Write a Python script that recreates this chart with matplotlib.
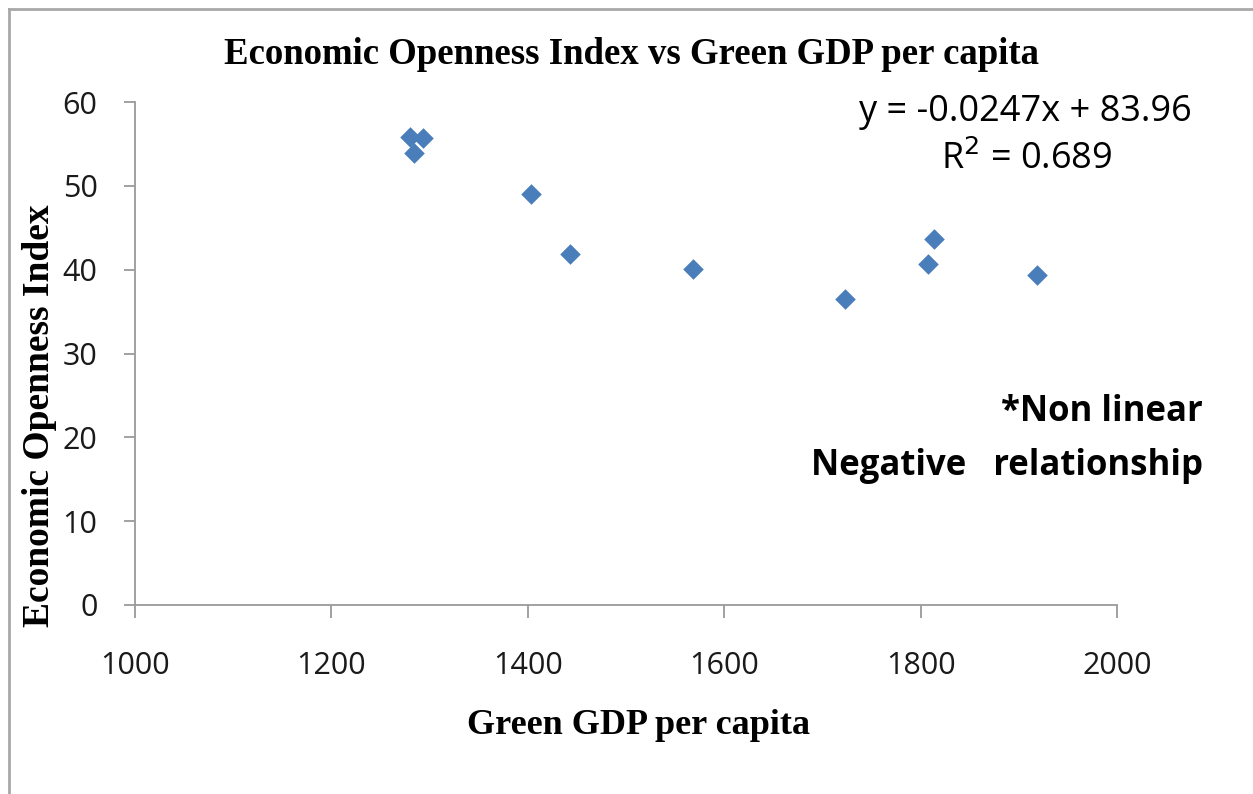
import matplotlib.pyplot as plt
from matplotlib.lines import Line2D

# data
green_gdp = [1280, 1293, 1284, 1403, 1443, 1568, 1723, 1808, 1814, 1919]
openness = [55.8, 55.7, 53.9, 49.0, 41.9, 40.1, 36.5, 40.7, 43.7, 39.4]

x_ticks = [1000, 1200, 1400, 1600, 1800, 2000]
y_ticks = [0, 10, 20, 30, 40, 50, 60]

axis_gray = '#9a9a9a'
tick_font = 'Open Sans'
serif_font = 'Liberation Serif'

fig = plt.figure(figsize=(12.53, 7.94), dpi=100)
ax = fig.add_axes([135 / 1253, 1 - 605 / 794, 982 / 1253, 503 / 794])

ax.scatter(green_gdp, openness, marker='D', s=110, color='#4a7ebb', zorder=3, linewidths=0)

ax.set_xlim(1000, 2000)
ax.set_ylim(0, 60)
ax.set_xticks(x_ticks)
ax.set_yticks(y_ticks)

for side in ['top', 'right']:
    ax.spines[side].set_visible(False)
for side in ['left', 'bottom']:
    ax.spines[side].set_color(axis_gray)
    ax.spines[side].set_linewidth(1.3)

ax.tick_params(axis='both', direction='out', color=axis_gray, width=1.3, labelcolor='#1a1a1a')
ax.tick_params(axis='y', length=8, pad=19)
ax.tick_params(axis='x', length=9, pad=24)
for lab in ax.get_xticklabels() + ax.get_yticklabels():
    lab.set_fontfamily(tick_font)
    lab.set_fontsize(22)

# axis titles placed where the reference has them
fig.text(639 / 1253, 1 - 725 / 794, 'Green GDP per capita', ha='center', va='center',
         fontfamily=serif_font, fontweight='bold', fontsize=26)
fig.text(40 / 1253, 1 - 416 / 794, 'Economic Openness Index', ha='center', va='center',
         rotation=90, fontfamily=serif_font, fontweight='bold', fontsize=27)

fig.text(631 / 1253, 1 - 55 / 794, 'Economic Openness Index vs Green GDP per capita',
         ha='center', va='center', fontfamily=serif_font, fontweight='bold', fontsize=26.5)

# trendline equation and notes
fig.text(1025 / 1253, 1 - 112 / 794, 'y = -0.0247x + 83.96', ha='center', va='center',
         fontfamily=tick_font, fontsize=26)
fig.text(1027 / 1253, 1 - 160 / 794, 'R$^2$ = 0.689', ha='center', va='center',
         fontfamily=tick_font, fontsize=26)
fig.text(1203 / 1253, 1 - 412 / 794, '*Non linear', ha='right', va='center',
         fontfamily=tick_font, fontweight='bold', fontsize=25)
fig.text(1203 / 1253, 1 - 466 / 794, 'Negative   relationship', ha='right', va='center',
         fontfamily=tick_font, fontweight='bold', fontsize=25)

# frame around the chart area (no bottom edge)
frame_kw = dict(transform=fig.transFigure, color='#a8a8a8', linewidth=2)
fig.add_artist(Line2D([9 / 1253, 9 / 1253], [0, 1 - 9 / 794], **frame_kw))
fig.add_artist(Line2D([9 / 1253, 1], [1 - 9 / 794, 1 - 9 / 794], **frame_kw))

fig.savefig('out.png', dpi=100)
